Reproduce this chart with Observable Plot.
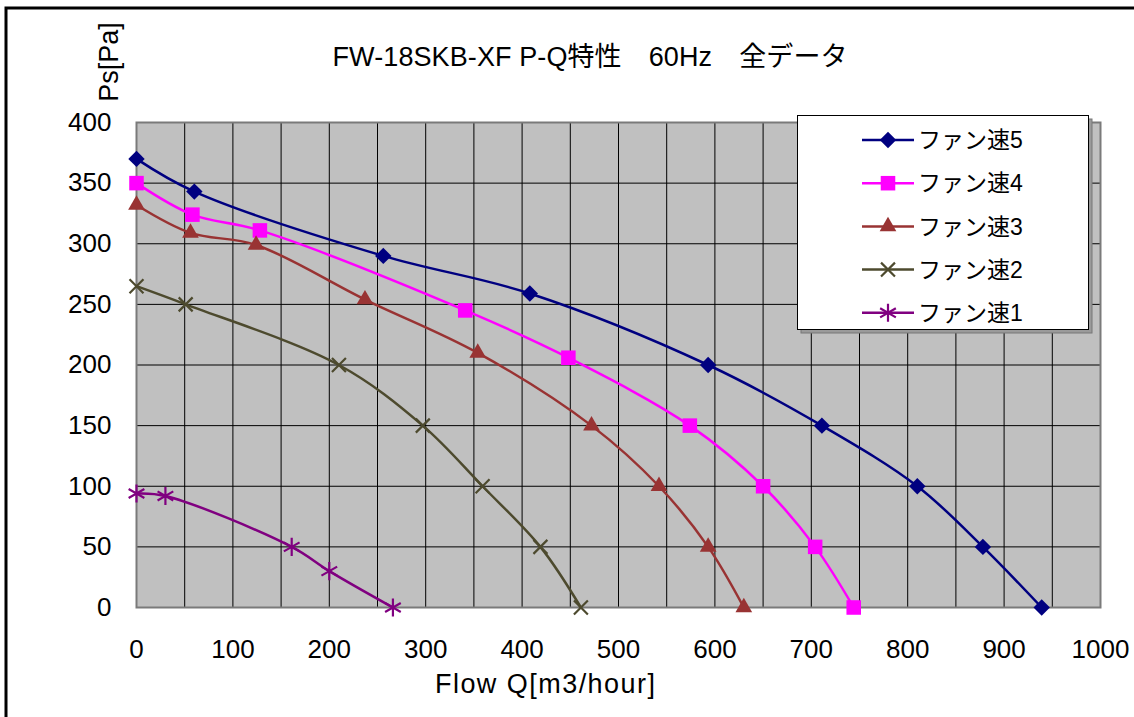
<!DOCTYPE html>
<html>
<head>
<meta charset="utf-8">
<script src="https://cdn.jsdelivr.net/npm/d3@7"></script>
<script src="https://cdn.jsdelivr.net/npm/@observablehq/plot@0.6"></script>
<style>
  html, body { margin: 0; padding: 0; background: #fff; }
  #chart svg { display: block; }
</style>
</head>
<body>
<div id="chart"></div>
<script>
// ---- data ----
const titleText = "FW-18SKB-XF P-Q特性\u300060Hz\u3000全データ";
const xLabel = "Flow Q[m3/hour]";
const yLabel = "Ps[Pa]";
const seriesNames = ["ファン速5", "ファン速4", "ファン速3", "ファン速2", "ファン速1"];
const seriesColors = ["#000080", "#ff00ff", "#993333", "#4d4a2e", "#800080"];
const seriesSymbols = ["diamond2", "square", "triangle", "times", "asterisk"];

const q5 = [0, 60, 256, 408, 593, 711, 810, 878, 939];
const p5 = [370, 343, 290, 259, 200, 150, 100, 50, 0];
const q4 = [0, 58, 128, 341, 448, 574, 650, 704, 744];
const p4 = [350, 324, 311, 245, 206, 150, 100, 50, 0];
const q3 = [0, 56, 124, 237, 354, 472, 542, 593, 630];
const p3 = [332, 309, 299, 254, 210, 150, 100, 50, 0];
const q2 = [0, 51, 210, 297, 359, 419, 461];
const p2 = [265, 250, 200, 150, 100, 50, 0];
const q1 = [0, 30, 161, 200, 266];
const p1 = [94, 92, 50, 30, 0];

const xTicks = d3.range(0, 1001, 100);
const yTicks = d3.range(0, 401, 50);
const xGrid = d3.range(0, 1001, 50);
const yGrid = d3.range(0, 401, 50);

// ---- build ----
const qs = [q5, q4, q3, q2, q1];
const ps = [p5, p4, p3, p2, p1];
const symbolR = {diamond2: 7.4, square: 8.2, triangle: 6.2, times: 6.4, asterisk: 8.6};
const filled = {diamond2: true, square: true, triangle: true, times: false, asterisk: false};

const font = "'Liberation Sans', 'Noto Sans CJK JP', sans-serif";

const marks = [
  Plot.frame({fill: "#c0c0c0"}),
  Plot.gridX(xGrid, {stroke: "#000", strokeOpacity: 1, strokeWidth: 1}),
  Plot.gridY(yGrid, {stroke: "#000", strokeOpacity: 1, strokeWidth: 1}),
  Plot.frame({stroke: "#7a7a7a", strokeWidth: 2}),
  Plot.axisX(xTicks, {tickSize: 0, tickPadding: 32, fontSize: 26, label: null, fill: "#000", tickFormat: d => String(d)}),
  Plot.axisY(yTicks, {tickSize: 0, tickPadding: 25, fontSize: 26, label: null, fill: "#000", tickFormat: d => String(d)})
];

seriesNames.forEach((name, i) => {
  const rows = qs[i].map((q, j) => ({q, p: ps[i][j]}));
  const sym = seriesSymbols[i];
  marks.push(Plot.line(rows, {x: "q", y: "p", curve: "catmull-rom", stroke: seriesColors[i], strokeWidth: 2.5}));
  marks.push(Plot.dot(rows, filled[sym]
    ? {x: "q", y: "p", symbol: sym, r: symbolR[sym], fill: seriesColors[i], stroke: "none"}
    : {x: "q", y: "p", symbol: sym, r: symbolR[sym], fill: "none", stroke: seriesColors[i], strokeWidth: 2.2}));
});

const plot = Plot.plot({
  width: 1134,
  height: 717,
  marginLeft: 136,
  marginRight: 34,
  marginTop: 122,
  marginBottom: 110,
  x: {domain: [0, 1000]},
  y: {domain: [0, 400]},
  style: {fontFamily: font, fontSize: "26px", background: "#fff", color: "#000", overflow: "hidden"},
  marks
});

document.getElementById("chart").appendChild(plot);

// ---- decorations: border, title, axis labels, legend ----
const svg = d3.select(plot);
svg.append("rect")
  .attr("x", 6).attr("y", 8).attr("width", 1300).attr("height", 900)
  .attr("fill", "none").attr("stroke", "#000").attr("stroke-width", 3);

svg.append("text")
  .attr("x", 590).attr("y", 66)
  .attr("text-anchor", "middle")
  .attr("font-family", font).attr("font-size", 27).attr("fill", "#000")
  .attr("textLength", 515).attr("lengthAdjust", "spacing")
  .text(titleText);

svg.append("text")
  .attr("transform", "translate(118,62) rotate(-90)")
  .attr("text-anchor", "middle")
  .attr("font-family", font).attr("font-size", 27).attr("fill", "#000")
  .text(yLabel);

svg.append("text")
  .attr("x", 545).attr("y", 693)
  .attr("text-anchor", "middle")
  .attr("font-family", font).attr("font-size", 27).attr("fill", "#000")
  .attr("textLength", 220).attr("lengthAdjust", "spacing")
  .text(xLabel);

const lg = svg.append("g").attr("text-anchor", "start");
lg.append("rect").attr("x", 801).attr("y", 119).attr("width", 291).attr("height", 214)
  .attr("fill", "#9a9a9a").attr("stroke", "#777").attr("stroke-width", 1);
lg.append("rect").attr("x", 797.5).attr("y", 115.5).attr("width", 291).attr("height", 214)
  .attr("fill", "#fff").attr("stroke", "#000").attr("stroke-width", 1);

const d3Sym = {diamond2: d3.symbolDiamond2, square: d3.symbolSquare, triangle: d3.symbolTriangle, times: d3.symbolTimes, asterisk: d3.symbolAsterisk};
seriesNames.forEach((name, i) => {
  const y = 140 + i * 43.2;
  const sym = seriesSymbols[i];
  lg.append("line").attr("x1", 862).attr("x2", 914).attr("y1", y).attr("y2", y)
    .attr("stroke", seriesColors[i]).attr("stroke-width", 2.5);
  const r = symbolR[sym];
  lg.append("path")
    .attr("transform", `translate(888,${y})`)
    .attr("d", d3.symbol(d3Sym[sym], Math.PI * r * r)())
    .attr("fill", filled[sym] ? seriesColors[i] : "none")
    .attr("stroke", filled[sym] ? "none" : seriesColors[i])
    .attr("stroke-width", 2.2);
  lg.append("text").attr("x", 918).attr("y", y).attr("dy", "0.36em")
    .attr("text-anchor", "start")
    .attr("font-family", font).attr("font-size", 23).attr("fill", "#000")
    .text(name);
});
</script>
</body>
</html>
